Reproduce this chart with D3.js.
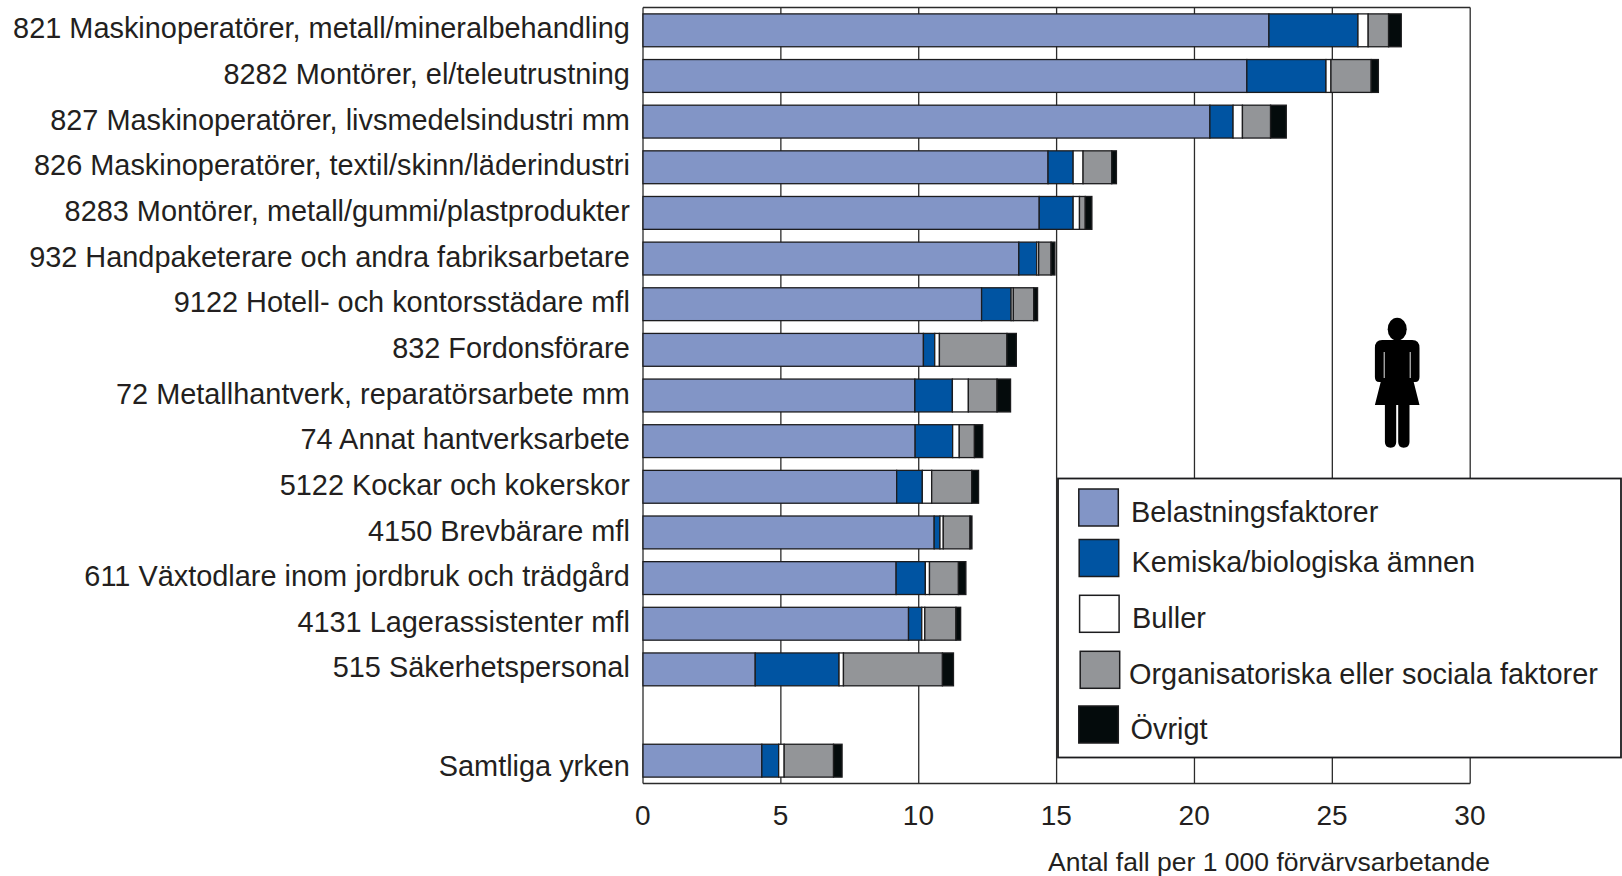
<!DOCTYPE html>
<html><head><meta charset="utf-8">
<script src="https://cdn.jsdelivr.net/npm/d3@7"></script>
<style>
html,body{margin:0;padding:0;background:#fff}
svg{display:block}
text{font-family:"Liberation Sans",Arial,sans-serif;fill:#231f20}
</style></head><body><svg id="c" width="1622" height="876"></svg>
<script>
const categories = ["821 Maskinoperatörer, metall/mineralbehandling","8282 Montörer, el/teleutrustning","827 Maskinoperatörer, livsmedelsindustri mm","826 Maskinoperatörer, textil/skinn/läderindustri","8283 Montörer, metall/gummi/plastprodukter","932 Handpaketerare och andra fabriksarbetare","9122 Hotell- och kontorsstädare mfl","832 Fordonsförare","72 Metallhantverk, reparatörsarbete mm","74 Annat hantverksarbete","5122 Kockar och kokerskor","4150 Brevbärare mfl","611 Växtodlare inom jordbruk och trädgård","4131 Lagerassistenter mfl","515 Säkerhetspersonal","","Samtliga yrken"];
const seriesNames = ["Belastningsfaktorer","Kemiska/biologiska ämnen","Buller","Organisatoriska eller sociala faktorer","Övrigt"];
const seriesColors = ["#8295c6","#0054a2","#ffffff","#939598","#040b0c"];
const belastning = [22.7,21.9,20.56,14.69,14.37,13.63,12.28,10.17,9.86,9.87,9.2,10.56,9.18,9.63,4.07,0,4.31];
const kemiska    = [3.23,2.87,0.84,0.91,1.23,0.65,1.07,0.41,1.36,1.36,0.93,0.21,1.06,0.48,3.04,0,0.61];
const buller     = [0.37,0.18,0.34,0.36,0.23,0.07,0.08,0.17,0.58,0.24,0.34,0.12,0.15,0.11,0.16,0,0.2];
const organis    = [0.74,1.46,1.02,1.04,0.21,0.45,0.74,2.45,1.04,0.55,1.45,0.97,1.05,1.13,3.59,0,1.79];
const ovrigt     = [0.46,0.26,0.57,0.17,0.24,0.14,0.14,0.34,0.49,0.3,0.25,0.07,0.27,0.17,0.4,0,0.31];
const xTicks = [0,5,10,15,20,25,30];
const axisTitle = "Antal fall per 1 000 förvärvsarbetande";

const svg = d3.select("#c");
const x = d3.scaleLinear().domain([0,30]).range([643,1470.2]);
const y = d3.scaleBand().domain(categories).range([7.5,783.5]).paddingInner(0.28).paddingOuter(0.14);
const LINE="#2b2b2b";

// grid + frame
svg.append("g").selectAll("line").data(xTicks).join("line")
  .attr("x1",d=>x(d)).attr("x2",d=>x(d)).attr("y1",y.range()[0]).attr("y2",y.range()[1])
  .attr("stroke",LINE).attr("stroke-width",1.3);
svg.append("line").attr("x1",x(0)).attr("x2",x(30)).attr("y1",7.5).attr("y2",7.5).attr("stroke",LINE).attr("stroke-width",1.3);
svg.append("line").attr("x1",x(0)).attr("x2",x(30)).attr("y1",783.5).attr("y2",783.5).attr("stroke",LINE).attr("stroke-width",1.5);

// stacked bars
const allSeries=[belastning,kemiska,buller,organis,ovrigt];
const rows=categories.map((c,i)=>{const o={cat:c};seriesNames.forEach((s,k)=>o[s]=allSeries[k][i]);return o;}).filter(r=>r.cat!=="");
const stack=d3.stack().keys(seriesNames)(rows);
svg.append("g").selectAll("g").data(stack).join("g")
  .attr("fill",(d,i)=>seriesColors[i])
  .selectAll("rect").data(d=>d).join("rect")
  .attr("x",d=>x(d[0])).attr("width",d=>x(d[1])-x(d[0]))
  .attr("y",d=>y(d.data.cat)).attr("height",y.bandwidth())
  .attr("stroke","#1c1c1e").attr("stroke-width",1.3);

// axes
const ax=svg.append("g").attr("transform","translate(-0.8,783.5)")
  .call(d3.axisBottom(x).tickValues(xTicks).tickSize(0).tickPadding(21.5).tickFormat(d3.format("d")));
ax.select(".domain").remove();
ax.selectAll("text").attr("font-size",28).attr("fill","#231f20").style("font-family",'"Liberation Sans",Arial,sans-serif');
const ay=svg.append("g").attr("transform","translate(643,0)")
  .call(d3.axisLeft(y).tickSize(0).tickPadding(13.2));
ay.select(".domain").remove();
ay.selectAll("text").attr("font-size",28.9).attr("fill","#231f20").style("font-family",'"Liberation Sans",Arial,sans-serif')
  .attr("y",d=>d==="Samtliga yrken"?6:-1.2);
svg.append("text").attr("x",1490).attr("y",871).attr("text-anchor","end").attr("font-size",26.5).text(axisTitle);

// person icon
const icon=svg.append("g").attr("transform","translate(1397.2,0)").attr("fill","#000");
icon.append("ellipse").attr("cx",0).attr("cy",329.2).attr("rx",9.5).attr("ry",11.5);
icon.append("path").attr("d","M-15,340 H15 Q22.3,340 22.3,348 V377 Q22.3,382 18,382 H16.5 L22.3,405 H12.3 V442 Q12.3,447.7 6.5,447.7 Q1,447.7 1,442 V405 H-1 V442 Q-1,447.7 -6.5,447.7 Q-12.3,447.7 -12.3,442 V405 H-22.3 L-16.5,382 H-18 Q-22.3,382 -22.3,377 V348 Q-22.3,340 -15,340 Z");
icon.append("path").attr("d","M-13,352V378M13,352V378").attr("stroke","#fff").attr("stroke-width",.9).attr("fill","none");

// legend
svg.append("rect").attr("x",1058).attr("y",478.5).attr("width",563).attr("height",279).attr("fill","#fff").attr("stroke","#1c1c1e").attr("stroke-width",1.8);
const legendSwatchX=[1078.8,1079.2,1079.6,1080.2,1078.8];
const legendSwatchY=[489,539.5,595.3,651.3,706];
const legendTextX=[1131,1131.5,1132,1129,1130.5];
const legendTextY=[521.7,572,628,684,739];
const lg=svg.append("g").selectAll("g").data(seriesNames).join("g");
lg.append("rect").attr("x",(d,i)=>legendSwatchX[i]).attr("y",(d,i)=>legendSwatchY[i]).attr("width",39.5).attr("height",37)
  .attr("fill",(d,i)=>seriesColors[i]).attr("stroke","#1c1c1e").attr("stroke-width",1.5);
lg.append("text").attr("x",(d,i)=>legendTextX[i]).attr("y",(d,i)=>legendTextY[i]).attr("font-size",28.9).text(d=>d);
</script></body></html>
